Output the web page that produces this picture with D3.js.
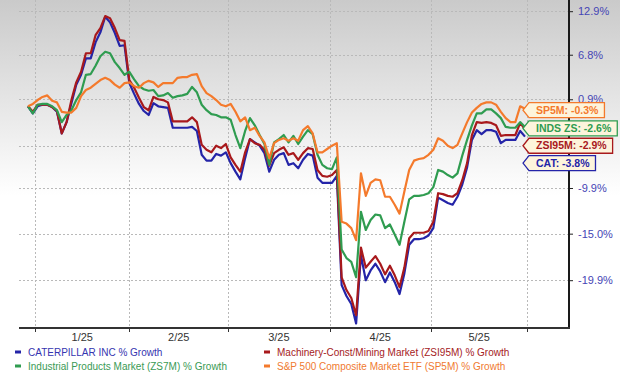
<!DOCTYPE html>
<html>
<head>
<meta charset="utf-8">
<script src="https://cdn.jsdelivr.net/npm/d3@7"></script>
<style>
body { margin: 0; background: #fff; }
svg { display: block; font-family: "Liberation Sans", Arial, sans-serif; }
</style>
</head>
<body>
<svg width="620" height="377"></svg>
<script>
// % growth, one value per trading day
var cat = [0, -0.9, 0.0, 0.2, 0.2, -0.1, -0.7, -3.4, -2.0, 0.4,
  2.8, 4.1, 6.3, 6.3, 8.5, 9.9, 12.1, 11.3, 9.8, 8.0,
  8.1, 3.0, 1.6, 0.3, -0.6, -1.1, 0.4, 0.0, -0.1, -0.2,
  -2.7, -2.7, -2.7, -2.7, -2.6, -3.1, -6.0, -6.7, -6.7, -5.9,
  -6.1, -5.7, -7.0, -8.0, -8.9, -6.4, -4.1, -4.5, -4.9, -5.8,
  -8.0, -6.6, -6.0, -5.8, -7.2, -7.0, -7.6, -6.6, -5.9, -6.1,
  -8.7, -9.3, -9.3, -9.3, -8.5, -20.4, -21.5, -22.3, -24.2, -17.3,
  -19.9, -18.9, -18.2, -19.0, -20.1, -19.1, -20.1, -21.3, -19.2, -16.2,
  -15.6, -15.6, -15.5, -15.2, -14.4, -11.0, -11.3, -11.6, -11.8, -10.9,
  -9.5, -7.5, -4.2, -3.0, -3.5, -3.0, -3.0, -3.2, -4.6, -4.2,
  -4.2, -4.2, -3.1, -3.8];

var zsi95m = [0, -0.7, 0.2, 0.2, 0.2, -0.1, -0.6, -3.4, -2.0, 0.8,
  3.1, 4.5, 7.0, 7.0, 9.5, 10.5, 12.2, 11.9, 10.5, 8.8,
  8.7, 3.4, 2.4, 1.1, -0.1, -0.5, 1.2, 0.9, 0.8, 0.5,
  -1.9, -1.9, -1.9, -1.9, -1.4, -2.0, -4.8, -5.4, -5.7, -4.9,
  -5.2, -4.7, -6.3, -7.2, -8.0, -5.7, -4.1, -4.6, -4.8, -5.4,
  -7.3, -5.8, -5.4, -5.1, -6.0, -5.8, -6.6, -5.8, -5.2, -5.3,
  -7.8, -8.5, -8.6, -8.4, -7.8, -19.6, -20.9, -21.7, -23.4, -16.5,
  -18.6, -18.0, -17.4, -18.2, -19.3, -18.4, -19.4, -20.6, -18.6, -15.5,
  -14.9, -14.9, -14.9, -14.7, -13.7, -10.5, -10.6, -10.8, -10.9, -10.5,
  -9.0, -7.0, -3.6, -2.0, -2.1, -2.0, -2.1, -2.4, -3.7, -3.6,
  -3.6, -3.6, -2.1, -2.9];

var inds = [0, -0.9, 0.2, 0.3, 0.3, 0.0, -0.5, -2.0, -1.1, -0.5,
  0.8, 1.8, 4.1, 4.2, 5.3, 6.6, 7.2, 7.0, 5.8, 5.0,
  4.1, 4.5, 3.5, 2.6, 2.2, 2.0, 2.1, 1.3, 1.4, 1.7,
  1.1, 1.3, 1.4, 1.6, 2.5, 1.8, 0.2, -0.5, -1.0, -1.1,
  -1.4, -1.4, -1.7, -3.6, -5.2, -3.1, -1.5, -2.4, -3.6, -4.7,
  -7.2, -4.5, -4.1, -3.6, -4.5, -3.7, -4.7, -3.8, -3.0, -3.5,
  -6.0, -7.2, -7.6, -7.7, -6.3, -16.7, -17.6, -18.0, -19.6, -12.6,
  -14.6, -13.5, -12.9, -13.0, -14.4, -14.0, -15.1, -16.2, -13.7, -11.2,
  -10.8, -10.8, -10.7, -10.5, -9.8, -7.8, -8.0, -8.4, -8.7, -8.2,
  -6.1, -4.2, -2.4, -0.9, -0.9, -0.4, -0.4, -0.9, -1.5, -2.6,
  -2.7, -2.7, -2.0, -2.6];

var sp5m = [0, 0.3, 0.8, 1.2, 1.4, 0.7, 0.5, -0.7, -0.8, -0.8,
  -0.2, 1.3, 2.1, 2.4, 2.9, 3.4, 3.7, 3.4, 2.8, 2.4,
  3.0, 3.1, 2.6, 2.4, 3.0, 3.3, 3.1, 2.5, 3.0, 3.0,
  3.0, 3.7, 3.8, 3.8, 4.1, 4.2, 2.6, 1.7, 1.3, 0.8,
  0.2, 0.0, 0.3, -0.7, -1.9, -1.4, -3.0, -2.7, -3.7, -4.5,
  -6.4, -4.6, -4.2, -4.0, -4.3, -4.0, -4.3, -3.0, -2.5, -3.4,
  -5.7, -5.7, -5.3, -4.9, -4.6, -13.7, -13.9, -14.4, -15.7, -8.2,
  -10.8, -9.3, -8.9, -9.0, -10.9, -10.9, -11.8, -12.8, -10.3, -7.8,
  -6.7, -6.5, -6.4, -6.0, -5.4, -4.0, -4.3, -4.9, -5.2, -4.8,
  -3.4, -2.0, -0.8, -0.2, 0.3, 0.5, 0.5, 0.2, -0.7, -1.5,
  -2.0, -2.0, 0.0, -0.3];

var monthBreaks = [1.5, 21, 41.5, 62.5, 83.5, 103.5];
var monthLabels = ["1/25", "2/25", "3/25", "4/25", "5/25"];
var yTicks = [12.9, 6.8, 0.9, -4.9, -9.9, -15.0, -19.9];
var hiddenTick = -4.9;   // its label sits under the end tags

var series = [
  {tag: "CAT", name: "CATERPILLAR INC % Growth", color: "#2424a8", text: "#3535b0", values: cat},
  {tag: "ZSI95M", name: "Machinery-Const/Mining Market (ZSI95M) % Growth", color: "#a8191c", text: "#a52224", values: zsi95m},
  {tag: "INDS ZS", name: "Industrial Products Market (ZS7M) % Growth", color: "#2f9c50", text: "#3a9a55", values: inds},
  {tag: "SP5M", name: "S&P 500 Composite Market ETF (SP5M) % Growth", color: "#f47a2c", text: "#f07a30", values: sp5m}
];

var svg = d3.select("svg"),
    width = +svg.attr("width"),
    height = +svg.attr("height"),
    left = 19, right = 569, top = 5, bottom = 328;

var x = d3.scaleLinear()
    .domain([0, cat.length - 1])
    .range([28, 525]);

var y = d3.scaleLog()
    .domain([0.801, 1.129])
    .range([280.2, 11.2]);

var py = function (v) { return y(1 + v / 100); };

// background gradient
var grad = svg.append("defs").append("linearGradient")
    .attr("id", "bg").attr("x1", 0).attr("y1", 0).attr("x2", 0).attr("y2", 1);
grad.append("stop").attr("offset", "0%").attr("stop-color", "#cacaca");
grad.append("stop").attr("offset", "52%").attr("stop-color", "#ffffff");
grad.append("stop").attr("offset", "100%").attr("stop-color", "#ffffff");
svg.append("rect").attr("width", width).attr("height", height).attr("fill", "url(#bg)");

// grid
var grid = svg.append("g").attr("stroke", "#b9b9b9").attr("stroke-dasharray", "2,2").attr("stroke-width", 1);
grid.selectAll(".h").data(yTicks).enter().append("line")
    .attr("x1", left).attr("x2", right)
    .attr("y1", function (d) { return Math.round(py(d)) + 0.5; })
    .attr("y2", function (d) { return Math.round(py(d)) + 0.5; });
grid.selectAll(".v").data(monthBreaks).enter().append("line")
    .attr("y1", top).attr("y2", bottom)
    .attr("x1", function (d) { return Math.round(x(d)) + 0.5; })
    .attr("x2", function (d) { return Math.round(x(d)) + 0.5; });

// lines
var line = d3.line()
    .x(function (d, i) { return x(i); })
    .y(function (d) { return py(d); });

svg.append("g").selectAll("path").data(series).enter().append("path")
    .attr("fill", "none")
    .attr("stroke", function (d) { return d.color; })
    .attr("stroke-width", 2.2)
    .attr("stroke-linejoin", "round")
    .attr("d", function (d) { return line(d.values); });

// right axis
var yAxis = d3.axisRight(y)
    .tickValues(yTicks.map(function (v) { return 1 + v / 100; }))
    .tickFormat(function (d) {
        var v = (d - 1) * 100;
        return Math.abs(v - hiddenTick) < 0.01 ? "" : v.toFixed(1) + "%";
    })
    .tickSize(4)
    .tickPadding(5);
var ya = svg.append("g").attr("transform", "translate(" + right + ",0)").call(yAxis);
ya.select(".domain").remove();
ya.selectAll("line").attr("stroke", "#222");
ya.selectAll("text").attr("fill", "#4545b5").style("font-size", "11px").style("font-family", "Liberation Sans, Arial, sans-serif");
svg.append("line").attr("x1", right).attr("x2", right).attr("y1", top).attr("y2", bottom + 1)
    .attr("stroke", "#1a1a1a").attr("stroke-width", 2);

// bottom axis
svg.append("line").attr("x1", left).attr("x2", right + 1).attr("y1", bottom).attr("y2", bottom)
    .attr("stroke", "#333").attr("stroke-width", 2);
svg.append("g").selectAll("line").data(monthBreaks).enter().append("line")
    .attr("x1", function (d) { return Math.round(x(d)) + 0.5; })
    .attr("x2", function (d) { return Math.round(x(d)) + 0.5; })
    .attr("y1", bottom).attr("y2", bottom + 4)
    .attr("stroke", "#333");
svg.append("g").selectAll("text").data(monthLabels).enter().append("text")
    .attr("x", function (d, i) { return x((monthBreaks[i] + monthBreaks[i + 1]) / 2); })
    .attr("y", 341)
    .attr("text-anchor", "middle")
    .attr("fill", "#333")
    .style("font-size", "11px")
    .text(function (d) { return d; });

// end tags, pushed apart so they don't overlap
var tags = series.map(function (s) {
    var last = s.values[s.values.length - 1];
    return {s: s, value: last, y: py(last) + 1.5};
}).sort(function (a, b) { return a.y - b.y; });
for (var i = 1; i < tags.length; i++) {
    tags[i].y = Math.max(tags[i].y, tags[i - 1].y + 17.3);
}

var tagG = svg.append("g").selectAll("g").data(tags).enter().append("g");
tagG.append("text")
    .attr("x", 536)
    .attr("y", function (d) { return d.y; })
    .attr("dy", "0.35em")
    .attr("fill", function (d) { return d.s.color; })
    .style("font-size", "10.5px")
    .style("font-weight", "bold")
    .text(function (d) { return d.s.tag + ": " + d.value.toFixed(1) + "%"; })
    .each(function (d) { d.w = this.getComputedTextLength(); });
tagG.insert("path", "text")
    .attr("fill", "#fdf4dc")
    .attr("stroke", function (d) { return d.s.color; })
    .attr("stroke-width", 1.3)
    .attr("d", function (d) {
        var t = 523, r = 536 + d.w + 6, h = 7.5;
        return "M" + t + "," + d.y + "L" + (t + 6) + "," + (d.y - h) + "L" + r + "," + (d.y - h) +
            "L" + r + "," + (d.y + h) + "L" + (t + 6) + "," + (d.y + h) + "Z";
    });

// legend
var legend = svg.append("g").selectAll("g").data(series).enter().append("g")
    .attr("transform", function (d, i) {
        return "translate(" + (i % 2 ? 264 : 15) + "," + (i < 2 ? 352 : 366) + ")";
    });
legend.append("rect")
    .attr("x", 0).attr("y", -1.5).attr("width", 6).attr("height", 3)
    .attr("fill", function (d) { return d.color; });
legend.append("text")
    .attr("x", 13)
    .attr("dy", "0.35em")
    .attr("fill", function (d) { return d.text; })
    .style("font-size", "10px")
    .text(function (d) { return d.name; });
</script>
</body>
</html>
